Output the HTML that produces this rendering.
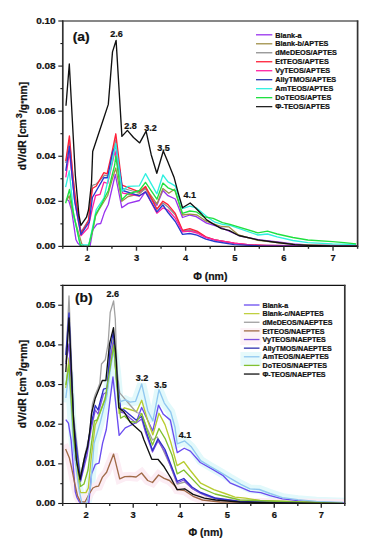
<!DOCTYPE html>
<html><head><meta charset="utf-8"><style>
html,body{margin:0;padding:0;background:#fff;width:373px;height:550px;overflow:hidden}
text{stroke:#111;stroke-width:0.22px;paint-order:stroke}
svg{display:block}
</style></head><body>
<svg width="373" height="550" viewBox="0 0 373 550">
<rect x="0" y="0" width="373" height="550" fill="#fff"/>
<rect x="240.4" y="352" width="21" height="14" fill="#e6fafb"/>
<rect x="240.4" y="328" width="21" height="17" fill="#fdf2f7"/>
<clipPath id="c246"><rect x="62.8" y="21.0" width="294.8" height="225.4"/></clipPath>
<g clip-path="url(#c246)" fill="none" stroke-width="1.1" stroke-linejoin="round">
<polyline points="66,198.7 68.8,200.7 71.6,210.4 76,239.8 77.7,243 80.1,245.4 82,246.3 90,246.3 92.9,229.7 96.9,224.2 100.7,223.5 104.5,212.1 108.3,204.5 115.3,174.5 121.8,207.7 128.2,203.4 139.4,200.5 145.3,191.8 156.9,205.2 162.9,190.5 168,195.7 175.3,199 182.5,217.5 189.8,215 196.2,216.6 206.6,223.1 220,227.1 240,236 260,240 280,242.2 292.9,243.9 307.9,245 357,246" stroke="#9933ee" stroke-width="1.3"/>
<polyline points="66.4,200.7 69.2,195.9 73,214 81.7,243.8 84,246.3 88.5,246.3 92.9,229.5 95.6,216 98.2,211 107.7,195.5 112,180 115.8,168 121.8,201.3 128.2,196.5 139.4,193.8 145.5,187.8 156.9,203.9 162.9,188.5 168.8,193.3 174.5,189.3 182.5,215 189.8,214.2 197,215 206.6,221.5 215,224.3 221.4,226.5 229,226.9 238.6,235 257.9,240.4 277.2,242.5 295,244.7 357,246" stroke="#a09048" stroke-width="1.3"/>
<polyline points="65.8,163 69.4,140 75,196 81,232 88.5,220 92.4,185.4 96.3,184 104.5,175.2 107.7,176 112.5,155 115.8,140 122,188 139.4,193 145.5,189 156.9,209 162.9,203 168,207 175.3,215 182.5,231 189.8,230 197,232 205.8,237 215,240 234.3,243.5 250,245 357,246.3" stroke="#909090" stroke-width="1.3"/>
<polyline points="65.8,161 69.4,135.9 72.8,175 75,195 81,233 84.9,227 88.5,220.5 89.7,210 92.4,188.5 96.3,186 103.9,172.6 107.1,173.9 112.5,150 115.8,133.8 122,185.1 139.4,191.8 145.5,186.4 156.9,209.2 162.9,201.2 168,204.6 175.3,213.4 182.5,230.3 189.8,228.7 197,231.1 205.8,236.8 215,239.8 234.3,243.2 247.2,244.7 270,245.8 357,246.3" stroke="#ff2038" stroke-width="1.35"/>
<polyline points="65.8,177.3 69.4,152.2 75,203 80.9,235.7 88,228 92.5,208 95.6,195.5 100.1,194.3 103.9,182.2 107.7,183.5 112.5,162 115,151 122.7,193.2 139.4,196 145.5,191.8 156.9,213.3 162.9,207.9 168,210 175.3,218.3 182.5,231.9 189.8,231.1 197,233 205.8,237.6 215,239.8 234.3,243.2 250,245 357,246.3" stroke="#ff20a0" stroke-width="1.3"/>
<polyline points="65.8,170.8 69.4,146.3 72,175 74.5,200 81,234.5 87.3,224.8 89.3,222 92.4,197.5 103.9,177.7 107.7,177.7 112.5,152 115.8,146 122.7,190.5 139.4,195.8 145.5,192 156.9,211.9 162.9,205 168,212.5 175.3,221.5 182.5,234.3 189.8,233.5 197,235.1 205.8,239.2 215,241.5 234.3,244.7 260,245.8 357,246.3" stroke="#2838d0" stroke-width="1.35"/>
<polyline points="65.6,187.1 69.3,170.8 73.7,215 80.4,244.8 88.8,244.8 92.9,226 96.3,209.5 103.9,198.1 111.5,165 115.8,143.5 122,191.1 128,186.4 139.4,185.8 145.5,173.7 156.9,193.8 162.9,175 168,181.8 171.3,183.7 175.3,186.1 182.5,208.6 189.8,206.2 196.2,207.8 201,211.8 206.6,216.6 215,222.2 222.5,224.3 230,225.4 257.9,235 267.5,234 277.2,236.8 292.9,240.5 307.9,242.6 332.5,243.9 356,244.5" stroke="#30f0e0" stroke-width="1.35"/>
<polyline points="65.6,203.2 69.5,189.5 72.8,210 80.1,244.6 81.5,246.3 88.5,246.3 92.9,228.5 95.6,214.6 102,203.2 108.3,190.5 114.7,165 115.8,156 121.8,199.7 127.2,194.3 139.4,190.5 145.5,182.4 156.9,199.2 162.9,183.1 168,187.8 175.3,190.9 182.5,213.4 189.8,211 196.2,211.8 203.4,216.6 213.1,218.3 222.5,222.6 230,224.3 257.9,232.9 267.5,231.2 277.2,234 292.9,237.5 307.9,240 332.5,241.7 344.3,242.6 356.1,243.9" stroke="#20e040" stroke-width="1.35"/>
<polyline points="66,105.8 69.3,64 75.3,175 78.9,215 80.9,225.3 86.5,217.2 88.5,210 91.5,183 92.7,151.5 103.3,119.5 108.3,104.4 112.5,51.9 116.1,40.4 121.9,136.4 127.4,130.4 133.5,137.5 139.7,142.9 146.1,131.1 151.2,154.7 156.8,173.3 163.3,151 167.5,161.1 174,177.2 178.3,193.3 182.5,207.8 190.2,203 194.6,207 201,213.4 206.6,219.9 213.1,223.9 221.4,228.6 229,230.3 238.6,235.5 257.9,239.8 277.2,242.5 295,244.7 307.9,245.3 330,246 357,246.2" stroke="#111" stroke-width="1.35"/>
</g>
<line x1="62.199999999999996" y1="21.0" x2="358.20000000000005" y2="21.0" stroke="#111" stroke-width="1.2"/>
<line x1="62.199999999999996" y1="246.4" x2="358.20000000000005" y2="246.4" stroke="#111" stroke-width="1.2"/>
<line x1="62.8" y1="20.4" x2="62.8" y2="247.0" stroke="#333" stroke-width="1.7"/>
<line x1="357.6" y1="20.4" x2="357.6" y2="247.0" stroke="#333" stroke-width="1.7"/>
<line x1="58.3" y1="246.4" x2="62.8" y2="246.4" stroke="#1a1a1a" stroke-width="1.1"/>
<text transform="translate(55.5,249) scale(1.06,1)" text-anchor="end" font-family='"Liberation Sans", sans-serif' font-weight="bold" font-size="9.4" fill="#111">0.00</text>
<line x1="60.4" y1="223.86" x2="62.8" y2="223.86" stroke="#1a1a1a" stroke-width="1.1"/>
<line x1="58.3" y1="201.32" x2="62.8" y2="201.32" stroke="#1a1a1a" stroke-width="1.1"/>
<text transform="translate(55.5,203.92) scale(1.06,1)" text-anchor="end" font-family='"Liberation Sans", sans-serif' font-weight="bold" font-size="9.4" fill="#111">0.02</text>
<line x1="60.4" y1="178.78" x2="62.8" y2="178.78" stroke="#1a1a1a" stroke-width="1.1"/>
<line x1="58.3" y1="156.24" x2="62.8" y2="156.24" stroke="#1a1a1a" stroke-width="1.1"/>
<text transform="translate(55.5,158.84) scale(1.06,1)" text-anchor="end" font-family='"Liberation Sans", sans-serif' font-weight="bold" font-size="9.4" fill="#111">0.04</text>
<line x1="60.4" y1="133.7" x2="62.8" y2="133.7" stroke="#1a1a1a" stroke-width="1.1"/>
<line x1="58.3" y1="111.16" x2="62.8" y2="111.16" stroke="#1a1a1a" stroke-width="1.1"/>
<text transform="translate(55.5,113.76) scale(1.06,1)" text-anchor="end" font-family='"Liberation Sans", sans-serif' font-weight="bold" font-size="9.4" fill="#111">0.06</text>
<line x1="60.4" y1="88.62" x2="62.8" y2="88.62" stroke="#1a1a1a" stroke-width="1.1"/>
<line x1="58.3" y1="66.08" x2="62.8" y2="66.08" stroke="#1a1a1a" stroke-width="1.1"/>
<text transform="translate(55.5,68.68) scale(1.06,1)" text-anchor="end" font-family='"Liberation Sans", sans-serif' font-weight="bold" font-size="9.4" fill="#111">0.08</text>
<line x1="60.4" y1="43.54" x2="62.8" y2="43.54" stroke="#1a1a1a" stroke-width="1.1"/>
<line x1="58.3" y1="21" x2="62.8" y2="21" stroke="#1a1a1a" stroke-width="1.1"/>
<text transform="translate(55.5,23.6) scale(1.06,1)" text-anchor="end" font-family='"Liberation Sans", sans-serif' font-weight="bold" font-size="9.4" fill="#111">0.10</text>
<line x1="62.8" y1="246.4" x2="62.8" y2="248.8" stroke="#333" stroke-width="1.4"/>
<line x1="87.37" y1="246.4" x2="87.37" y2="250.70000000000002" stroke="#333" stroke-width="1.4"/>
<text x="87.37" y="261" text-anchor="middle" font-family='"Liberation Sans", sans-serif' font-weight="bold" font-size="9.4" fill="#111">2</text>
<line x1="111.93" y1="246.4" x2="111.93" y2="248.8" stroke="#333" stroke-width="1.4"/>
<line x1="136.5" y1="246.4" x2="136.5" y2="250.70000000000002" stroke="#333" stroke-width="1.4"/>
<text x="136.5" y="261" text-anchor="middle" font-family='"Liberation Sans", sans-serif' font-weight="bold" font-size="9.4" fill="#111">3</text>
<line x1="161.07" y1="246.4" x2="161.07" y2="248.8" stroke="#333" stroke-width="1.4"/>
<line x1="185.63" y1="246.4" x2="185.63" y2="250.70000000000002" stroke="#333" stroke-width="1.4"/>
<text x="185.63" y="261" text-anchor="middle" font-family='"Liberation Sans", sans-serif' font-weight="bold" font-size="9.4" fill="#111">4</text>
<line x1="210.2" y1="246.4" x2="210.2" y2="248.8" stroke="#333" stroke-width="1.4"/>
<line x1="234.77" y1="246.4" x2="234.77" y2="250.70000000000002" stroke="#333" stroke-width="1.4"/>
<text x="234.77" y="261" text-anchor="middle" font-family='"Liberation Sans", sans-serif' font-weight="bold" font-size="9.4" fill="#111">5</text>
<line x1="259.33" y1="246.4" x2="259.33" y2="248.8" stroke="#333" stroke-width="1.4"/>
<line x1="283.9" y1="246.4" x2="283.9" y2="250.70000000000002" stroke="#333" stroke-width="1.4"/>
<text x="283.9" y="261" text-anchor="middle" font-family='"Liberation Sans", sans-serif' font-weight="bold" font-size="9.4" fill="#111">6</text>
<line x1="308.47" y1="246.4" x2="308.47" y2="248.8" stroke="#333" stroke-width="1.4"/>
<line x1="333.03" y1="246.4" x2="333.03" y2="250.70000000000002" stroke="#333" stroke-width="1.4"/>
<text x="333.03" y="261" text-anchor="middle" font-family='"Liberation Sans", sans-serif' font-weight="bold" font-size="9.4" fill="#111">7</text>
<line x1="357.6" y1="246.4" x2="357.6" y2="248.8" stroke="#333" stroke-width="1.4"/>
<text x="210.3" y="279.5" text-anchor="middle" font-family='"Liberation Sans", sans-serif' font-weight="bold" font-size="10.5" fill="#111">&#934; (nm)</text>
<text transform="translate(26.2,126) rotate(-90)" text-anchor="middle" font-family='"Liberation Sans", sans-serif' font-weight="bold" font-size="10.3" fill="#111">dV/dR [cm<tspan dx="1" dy="-4.6" font-size="9">3</tspan><tspan dx="0.2" dy="5">/g</tspan><tspan font-size="8" dy="-1">*</tspan><tspan dy="1">nm]</tspan></text>
<text transform="translate(81.2,40.9) scale(1.08,1)" text-anchor="middle" font-family='"Liberation Sans", sans-serif' font-weight="bold" font-size="12.8" fill="#111">(a)</text>
<text x="116.4" y="37.4" text-anchor="middle" font-family='"Liberation Sans", sans-serif' font-weight="bold" font-size="9" fill="#111">2.6</text>
<text x="130.4" y="129" text-anchor="middle" font-family='"Liberation Sans", sans-serif' font-weight="bold" font-size="9" fill="#111">2.8</text>
<text x="150.6" y="130.5" text-anchor="middle" font-family='"Liberation Sans", sans-serif' font-weight="bold" font-size="9" fill="#111">3.2</text>
<text x="163.5" y="151.1" text-anchor="middle" font-family='"Liberation Sans", sans-serif' font-weight="bold" font-size="9" fill="#111">3.5</text>
<text x="189.8" y="197.9" text-anchor="middle" font-family='"Liberation Sans", sans-serif' font-weight="bold" font-size="9" fill="#111">4.1</text>
<line x1="256" y1="34.8" x2="272.3" y2="34.8" stroke="#9933ee" stroke-width="1.3"/>
<text x="275.3" y="37.5" font-family='"Liberation Sans", sans-serif' font-weight="bold" font-size="7.3" fill="#111">Blank-a</text>
<line x1="256" y1="43.78" x2="272.3" y2="43.78" stroke="#a09048" stroke-width="1.3"/>
<text x="275.3" y="46.48" font-family='"Liberation Sans", sans-serif' font-weight="bold" font-size="7.3" fill="#111">Blank-b/APTES</text>
<line x1="256" y1="52.76" x2="272.3" y2="52.76" stroke="#909090" stroke-width="1.3"/>
<text x="275.3" y="55.46" font-family='"Liberation Sans", sans-serif' font-weight="bold" font-size="7.3" fill="#111">dMeDEOS/APTES</text>
<line x1="256" y1="61.74" x2="272.3" y2="61.74" stroke="#ff2038" stroke-width="1.3"/>
<text x="275.3" y="64.44" font-family='"Liberation Sans", sans-serif' font-weight="bold" font-size="7.3" fill="#111">EtTEOS/APTES</text>
<line x1="256" y1="70.72" x2="272.3" y2="70.72" stroke="#ff20a0" stroke-width="1.3"/>
<text x="275.3" y="73.42" font-family='"Liberation Sans", sans-serif' font-weight="bold" font-size="7.3" fill="#111">VyTEOS/APTES</text>
<line x1="256" y1="79.7" x2="272.3" y2="79.7" stroke="#2838b0" stroke-width="1.3"/>
<text x="275.3" y="82.4" font-family='"Liberation Sans", sans-serif' font-weight="bold" font-size="7.3" fill="#111">AllyTMOS/APTES</text>
<line x1="256" y1="88.68" x2="272.3" y2="88.68" stroke="#30f0e0" stroke-width="1.3"/>
<text x="275.3" y="91.38" font-family='"Liberation Sans", sans-serif' font-weight="bold" font-size="7.3" fill="#111">AmTEOS/APTES</text>
<line x1="256" y1="97.66" x2="272.3" y2="97.66" stroke="#20e040" stroke-width="1.3"/>
<text x="275.3" y="100.36" font-family='"Liberation Sans", sans-serif' font-weight="bold" font-size="7.3" fill="#111">DoTEOS/APTES</text>
<line x1="256" y1="106.64" x2="272.3" y2="106.64" stroke="#222" stroke-width="1.3"/>
<text x="275.3" y="109.34" font-family='"Liberation Sans", sans-serif' font-weight="bold" font-size="7.3" fill="#111">&#934;-TEOS/APTES</text>
<clipPath id="c503"><rect x="62.7" y="285.4" width="282.1" height="218.10000000000002"/></clipPath>
<g clip-path="url(#c503)" fill="none" stroke-width="1.1" stroke-linejoin="round">
<polyline points="65.8,398 69,372 73.8,452 79,490 82,503.5 86.7,503.5 90.6,486.5 94.1,443.2 100.5,421.4 106.8,396 110,372 113.5,350 116.5,372 119.2,402 125.3,399.9 130,402.2 135.6,401.3 141.7,384 147.8,410.7 152.9,420.9 159,389.7 164.3,403.1 170.7,412 175,427.3 177.2,443.8 184.7,440.9 191.5,447.1 200.7,460.6 210,466.3 221.3,472.8 230,478.1 240.8,484.3 250,488.9 259.3,489.5 270.1,493.5 282.4,497.6 297.8,499.7 316.3,501.3 343,502.3" stroke="#e2f9fb" stroke-width="9" stroke-linecap="square" stroke-linejoin="miter" stroke-miterlimit="2"/>
<polyline points="65.6,449 69.3,457.7 71.3,466.4 74.4,481.8 77.5,495.7 80.5,501.9 85,502 89,494.2 92.9,488 96,486.5 98.6,486.1 102.3,477.4 106.6,472.3 113.6,454.1 119.7,478.8 124.8,476.6 130,476.4 136.1,477 141.6,473 147.7,480.5 152.5,482.5 158.6,475 164.1,478.4 169.5,480.5 175,485.9 177.2,489.7 184.7,490.7 193.1,496.3 202.5,500 220,502 343,503.5" stroke="#fcedf4" stroke-width="9" stroke-linecap="square" stroke-linejoin="miter" stroke-miterlimit="2"/>
<polyline points="65.76,419.59 68.44,423.11 71.12,440.17 75.33,491.89 76.96,497.52 79.25,501.74 81.07,503.32 88.73,503.32 91.5,474.12 95.33,464.45 98.97,463.22 102.6,443.16 106.24,429.79 112.94,377.02 119.16,435.42 125.28,427.86 136,422.76 141.65,407.45 152.75,431.03 158.49,405.17 163.37,414.31 170.35,420.12 177.24,452.66 184.23,448.26 190.35,451.08 200.31,462.51 213.13,469.55 223.2,475.7 230,482.8 240.8,487.4 250,491.4 260.8,492.6 270.1,495.7 282.4,498.8 297.8,500.6 316,502.2 344,503" stroke="#6a4cf0" stroke-width="1.35"/>
<polyline points="65.8,388 69,358 73.8,440 79,486.5 80.5,492.6 86,492.6 88.3,488 91,460 95.2,425 97.7,419.5 106.6,394.3 110,362 113.3,339.7 116.5,378 119.2,413.5 124.4,407.8 130,409.5 136.6,411.6 141.7,400.3 147.8,420.9 152.9,434.9 159,413.3 165,424.6 170.7,442 177.1,465.6 183.8,461.6 190,470 200.7,483.2 213.8,489.7 225,493.5 235,497.2 245.4,498.2 260,500.5 343,503.5" stroke="#b8cc30" stroke-width="1.35"/>
<polyline points="65.8,362 69,296 73.5,415 80.5,476 85,455 89.5,435 92.5,403.6 95.3,394.5 97.9,388.5 99.8,383.6 101.5,364 105.2,359.8 108.1,343.8 110.2,312.5 113.6,300.9 115.3,319 117,370 119.7,392.8 124.4,398.4 130,405 136.6,412.5 141.7,414 147,428 152.5,440 157.3,437 164,452 170,465 177.2,484.1 184.7,482 193,489 205,495.5 220,499.5 250,502 343,503.5" stroke="#a0a0a0" stroke-width="1.3"/>
<polyline points="65.6,449 69.3,457.7 71.3,466.4 74.4,481.8 77.5,495.7 80.5,501.9 85,502 89,494.2 92.9,488 96,486.5 98.6,486.1 102.3,477.4 106.6,472.3 113.6,454.1 119.7,478.8 124.8,476.6 130,476.4 136.1,477 141.6,473 147.7,480.5 152.5,482.5 158.6,475 164.1,478.4 169.5,480.5 175,485.9 177.2,489.7 184.7,490.7 193.1,496.3 202.5,500 220,502 343,503.5" stroke="#a06a48" stroke-width="1.35"/>
<polyline points="65.8,364 69,344 73.6,430 80.5,481.5 87.1,455 91,430 95.3,410 98,414 103.5,394 107.1,392 110,360 113.3,342 116.5,380 120.6,412 124.4,413 130,418 136.1,423 141.7,419 145.7,433 152.5,452 158,441 165,452 171,467 177.2,483 183.8,480 192,488.5 200.7,493.5 215,498.5 240,501.8 343,503.5" stroke="#8050e0" stroke-width="1.3"/>
<polyline points="65.8,355 69,313 73.6,422 80.4,480.5 87.1,449.1 91,425 95.3,405.5 98,410 103.5,389.1 107.1,388.2 110,350 113.3,332 116.5,372 120.6,408.8 124.4,410.2 130,415 136.1,420 141.7,416.5 145.7,430 152.5,450.5 158,438.9 165,449.5 171,465 177.2,481.3 183.8,478.5 192,487 200.7,492.5 215,498 240,501.5 343,503.5" stroke="#3030c8" stroke-width="1.35"/>
<polyline points="65.8,398 69,372 73.8,452 79,490 82,503.5 86.7,503.5 90.6,486.5 94.1,443.2 100.5,421.4 106.8,396 110,372 113.5,350 116.5,372 119.2,402 125.3,399.9 130,402.2 135.6,401.3 141.7,384 147.8,410.7 152.9,420.9 159,389.7 164.3,403.1 170.7,412 175,427.3 177.2,443.8 184.7,440.9 191.5,447.1 200.7,460.6 210,466.3 221.3,472.8 230,478.1 240.8,484.3 250,488.9 259.3,489.5 270.1,493.5 282.4,497.6 297.8,499.7 316.3,501.3 343,502.3" stroke="#90c8f0" stroke-width="1.35"/>
<polyline points="65.8,385 69,365 73.8,440 80.5,486.5 84,484 88,470 94.4,421 97.1,420 105,399.5 113.8,345 116.5,382 120.6,418.1 124.4,416 130,421.5 136.1,422.4 141.7,413.5 147,430 152.5,445 159,428.5 165,438.3 172,455 177.2,473.8 183.8,470 200.7,487.9 215,494 240,500 343,503.5" stroke="#80c030" stroke-width="1.35"/>
<polyline points="65.8,372 69,318 73.6,420 76.4,460 80.1,479.3 84,460 85.8,452.5 87.5,447.5 89.9,430 91.6,413 95.3,398.2 102.3,380.5 105.9,380.5 109.5,343.8 113.5,327.7 116.3,360 117.8,390 118.8,407.8 124.1,412 130,421.9 133.8,425.6 141.3,432.2 144,440 151.8,459.3 158,459.3 164.1,466.8 170.6,477.5 177.2,489.7 184.7,488.8 193.1,494.4 204.4,498.2 215.7,500 240,502 280,503 343,503.5" stroke="#111" stroke-width="1.35"/>
</g>
<line x1="62.1" y1="285.4" x2="345.40000000000003" y2="285.4" stroke="#111" stroke-width="1.2"/>
<line x1="62.1" y1="503.5" x2="345.40000000000003" y2="503.5" stroke="#111" stroke-width="1.2"/>
<line x1="62.7" y1="284.79999999999995" x2="62.7" y2="504.1" stroke="#333" stroke-width="1.7"/>
<line x1="344.8" y1="284.79999999999995" x2="344.8" y2="504.1" stroke="#333" stroke-width="1.7"/>
<line x1="58.2" y1="503.5" x2="62.7" y2="503.5" stroke="#1a1a1a" stroke-width="1.1"/>
<text transform="translate(55.4,506.1) scale(1.06,1)" text-anchor="end" font-family='"Liberation Sans", sans-serif' font-weight="bold" font-size="9.4" fill="#111">0.00</text>
<line x1="60.300000000000004" y1="483.67" x2="62.7" y2="483.67" stroke="#1a1a1a" stroke-width="1.1"/>
<line x1="58.2" y1="463.85" x2="62.7" y2="463.85" stroke="#1a1a1a" stroke-width="1.1"/>
<text transform="translate(55.4,466.45) scale(1.06,1)" text-anchor="end" font-family='"Liberation Sans", sans-serif' font-weight="bold" font-size="9.4" fill="#111">0.01</text>
<line x1="60.300000000000004" y1="444.02" x2="62.7" y2="444.02" stroke="#1a1a1a" stroke-width="1.1"/>
<line x1="58.2" y1="424.19" x2="62.7" y2="424.19" stroke="#1a1a1a" stroke-width="1.1"/>
<text transform="translate(55.4,426.79) scale(1.06,1)" text-anchor="end" font-family='"Liberation Sans", sans-serif' font-weight="bold" font-size="9.4" fill="#111">0.02</text>
<line x1="60.300000000000004" y1="404.36" x2="62.7" y2="404.36" stroke="#1a1a1a" stroke-width="1.1"/>
<line x1="58.2" y1="384.54" x2="62.7" y2="384.54" stroke="#1a1a1a" stroke-width="1.1"/>
<text transform="translate(55.4,387.14) scale(1.06,1)" text-anchor="end" font-family='"Liberation Sans", sans-serif' font-weight="bold" font-size="9.4" fill="#111">0.03</text>
<line x1="60.300000000000004" y1="364.71" x2="62.7" y2="364.71" stroke="#1a1a1a" stroke-width="1.1"/>
<line x1="58.2" y1="344.88" x2="62.7" y2="344.88" stroke="#1a1a1a" stroke-width="1.1"/>
<text transform="translate(55.4,347.48) scale(1.06,1)" text-anchor="end" font-family='"Liberation Sans", sans-serif' font-weight="bold" font-size="9.4" fill="#111">0.04</text>
<line x1="60.300000000000004" y1="325.05" x2="62.7" y2="325.05" stroke="#1a1a1a" stroke-width="1.1"/>
<line x1="58.2" y1="305.23" x2="62.7" y2="305.23" stroke="#1a1a1a" stroke-width="1.1"/>
<text transform="translate(55.4,307.83) scale(1.06,1)" text-anchor="end" font-family='"Liberation Sans", sans-serif' font-weight="bold" font-size="9.4" fill="#111">0.05</text>
<line x1="60.300000000000004" y1="285.4" x2="62.7" y2="285.4" stroke="#1a1a1a" stroke-width="1.1"/>
<line x1="62.7" y1="503.5" x2="62.7" y2="505.9" stroke="#333" stroke-width="1.4"/>
<line x1="86.21" y1="503.5" x2="86.21" y2="507.8" stroke="#333" stroke-width="1.4"/>
<text x="86.21" y="518.1" text-anchor="middle" font-family='"Liberation Sans", sans-serif' font-weight="bold" font-size="9.4" fill="#111">2</text>
<line x1="109.72" y1="503.5" x2="109.72" y2="505.9" stroke="#333" stroke-width="1.4"/>
<line x1="133.23" y1="503.5" x2="133.23" y2="507.8" stroke="#333" stroke-width="1.4"/>
<text x="133.23" y="518.1" text-anchor="middle" font-family='"Liberation Sans", sans-serif' font-weight="bold" font-size="9.4" fill="#111">3</text>
<line x1="156.73" y1="503.5" x2="156.73" y2="505.9" stroke="#333" stroke-width="1.4"/>
<line x1="180.24" y1="503.5" x2="180.24" y2="507.8" stroke="#333" stroke-width="1.4"/>
<text x="180.24" y="518.1" text-anchor="middle" font-family='"Liberation Sans", sans-serif' font-weight="bold" font-size="9.4" fill="#111">4</text>
<line x1="203.75" y1="503.5" x2="203.75" y2="505.9" stroke="#333" stroke-width="1.4"/>
<line x1="227.26" y1="503.5" x2="227.26" y2="507.8" stroke="#333" stroke-width="1.4"/>
<text x="227.26" y="518.1" text-anchor="middle" font-family='"Liberation Sans", sans-serif' font-weight="bold" font-size="9.4" fill="#111">5</text>
<line x1="250.77" y1="503.5" x2="250.77" y2="505.9" stroke="#333" stroke-width="1.4"/>
<line x1="274.28" y1="503.5" x2="274.28" y2="507.8" stroke="#333" stroke-width="1.4"/>
<text x="274.28" y="518.1" text-anchor="middle" font-family='"Liberation Sans", sans-serif' font-weight="bold" font-size="9.4" fill="#111">6</text>
<line x1="297.78" y1="503.5" x2="297.78" y2="505.9" stroke="#333" stroke-width="1.4"/>
<line x1="321.29" y1="503.5" x2="321.29" y2="507.8" stroke="#333" stroke-width="1.4"/>
<text x="321.29" y="518.1" text-anchor="middle" font-family='"Liberation Sans", sans-serif' font-weight="bold" font-size="9.4" fill="#111">7</text>
<line x1="344.8" y1="503.5" x2="344.8" y2="505.9" stroke="#333" stroke-width="1.4"/>
<text x="205.6" y="536" text-anchor="middle" font-family='"Liberation Sans", sans-serif' font-weight="bold" font-size="10.5" fill="#111">&#934; (nm)</text>
<text transform="translate(26.2,384) rotate(-90)" text-anchor="middle" font-family='"Liberation Sans", sans-serif' font-weight="bold" font-size="10.3" fill="#111">dV/dR [cm<tspan dx="1" dy="-4.6" font-size="9">3</tspan><tspan dx="0.2" dy="5">/g</tspan><tspan font-size="8" dy="-1">*</tspan><tspan dy="1">nm]</tspan></text>
<text transform="translate(83.7,302.4) scale(1.08,1)" text-anchor="middle" font-family='"Liberation Sans", sans-serif' font-weight="bold" font-size="12.8" fill="#111">(b)</text>
<text x="112.8" y="297.4" text-anchor="middle" font-family='"Liberation Sans", sans-serif' font-weight="bold" font-size="9" fill="#111">2.6</text>
<text x="142" y="380.8" text-anchor="middle" font-family='"Liberation Sans", sans-serif' font-weight="bold" font-size="9" fill="#111">3.2</text>
<text x="160.5" y="387.8" text-anchor="middle" font-family='"Liberation Sans", sans-serif' font-weight="bold" font-size="9" fill="#111">3.5</text>
<text x="185.1" y="437.9" text-anchor="middle" font-family='"Liberation Sans", sans-serif' font-weight="bold" font-size="9" fill="#111">4.1</text>
<line x1="243.9" y1="305" x2="259.5" y2="305" stroke="#6a4cf0" stroke-width="1.3"/>
<text x="262.5" y="307.7" font-family='"Liberation Sans", sans-serif' font-weight="bold" font-size="7.12" fill="#111">Blank-a</text>
<line x1="243.9" y1="313.63" x2="259.5" y2="313.63" stroke="#c0d040" stroke-width="1.3"/>
<text x="262.5" y="316.33" font-family='"Liberation Sans", sans-serif' font-weight="bold" font-size="7.12" fill="#111">Blank-c/NAEPTES</text>
<line x1="243.9" y1="322.26" x2="259.5" y2="322.26" stroke="#a0a0a0" stroke-width="1.3"/>
<text x="262.5" y="324.96" font-family='"Liberation Sans", sans-serif' font-weight="bold" font-size="7.12" fill="#111">dMeDEOS/NAEPTES</text>
<line x1="243.9" y1="330.89" x2="259.5" y2="330.89" stroke="#a06a48" stroke-width="1.3"/>
<text x="262.5" y="333.59" font-family='"Liberation Sans", sans-serif' font-weight="bold" font-size="7.12" fill="#111">EtTEOS/NAEPTES</text>
<line x1="243.9" y1="339.52" x2="259.5" y2="339.52" stroke="#8050e0" stroke-width="1.3"/>
<text x="262.5" y="342.22" font-family='"Liberation Sans", sans-serif' font-weight="bold" font-size="7.12" fill="#111">VyTEOS/NAEPTES</text>
<line x1="243.9" y1="348.15" x2="259.5" y2="348.15" stroke="#3030b0" stroke-width="1.3"/>
<text x="262.5" y="350.85" font-family='"Liberation Sans", sans-serif' font-weight="bold" font-size="7.12" fill="#111">AllyTMOS/NAEPTES</text>
<line x1="243.9" y1="356.78" x2="259.5" y2="356.78" stroke="#90c8f0" stroke-width="1.3"/>
<text x="262.5" y="359.48" font-family='"Liberation Sans", sans-serif' font-weight="bold" font-size="7.12" fill="#111">AmTEOS/NAEPTES</text>
<line x1="243.9" y1="365.41" x2="259.5" y2="365.41" stroke="#80c030" stroke-width="1.3"/>
<text x="262.5" y="368.11" font-family='"Liberation Sans", sans-serif' font-weight="bold" font-size="7.12" fill="#111">DoTEOS/NAEPTES</text>
<line x1="243.9" y1="374.04" x2="259.5" y2="374.04" stroke="#111" stroke-width="1.3"/>
<text x="262.5" y="376.74" font-family='"Liberation Sans", sans-serif' font-weight="bold" font-size="7.12" fill="#111">&#934;-TEOS/NAEPTES</text>
</svg>
</body></html>
